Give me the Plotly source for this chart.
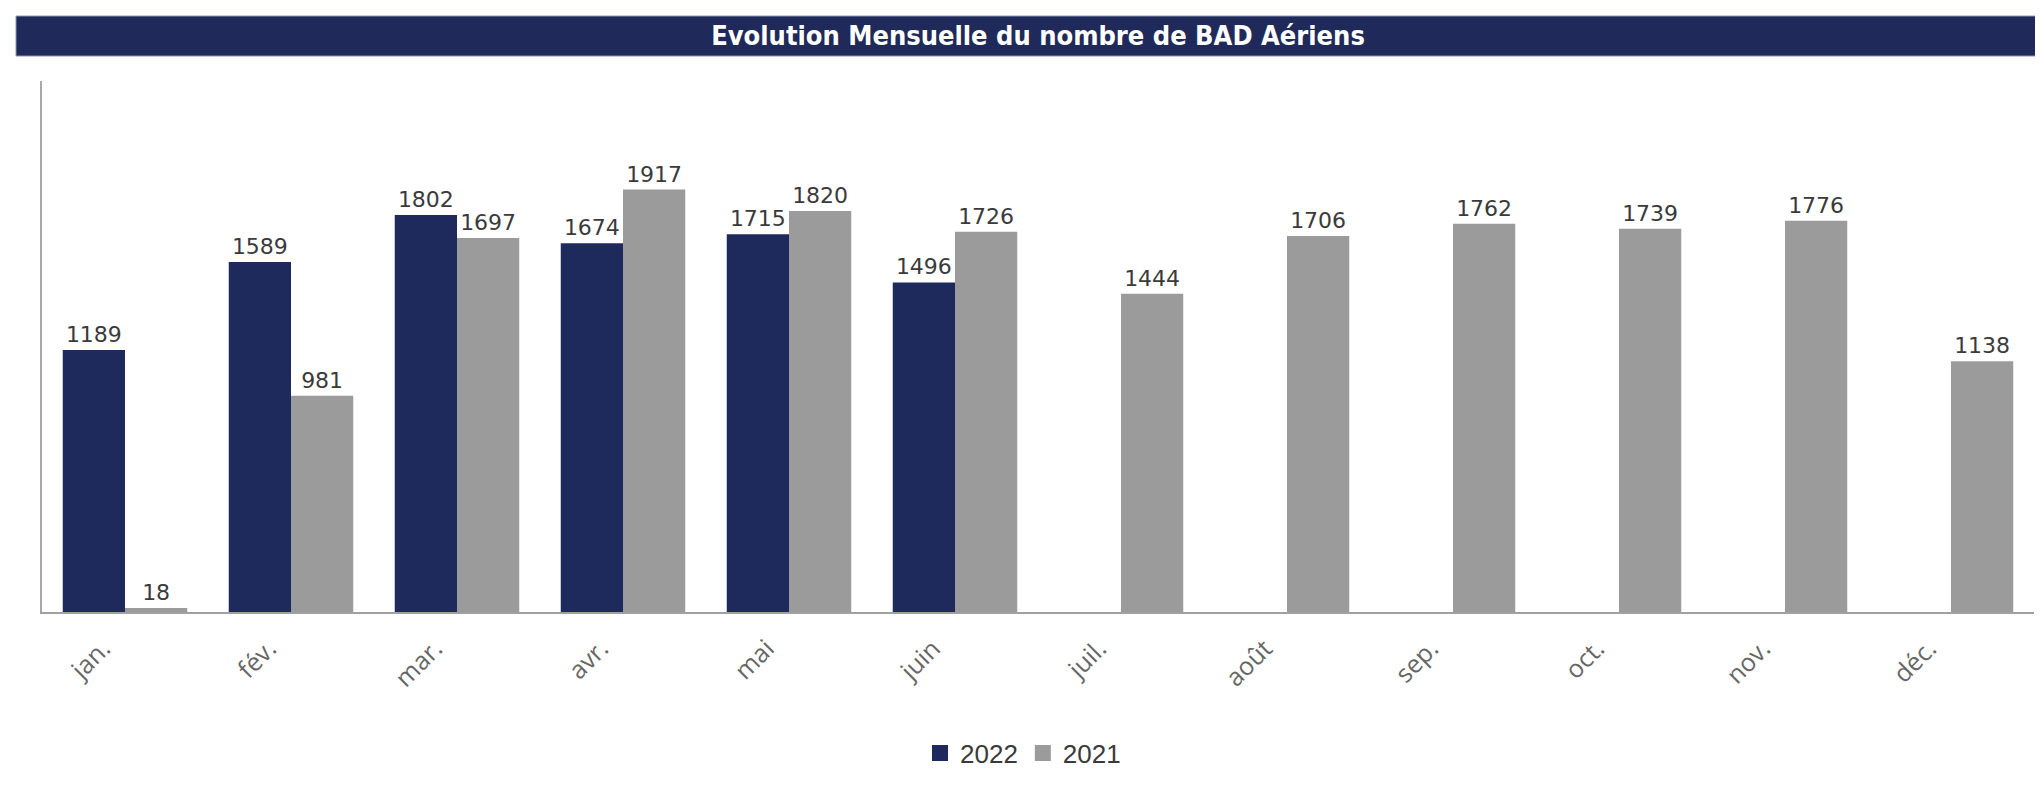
"""Evolution mensuelle du nombre de BAD aeriens - bar chart 2022 vs 2021"""
import plotly.graph_objects as go

MONTHS = ["jan.", "fév.", "mar.", "avr.", "mai", "juin",
          "juil.", "août", "sep.", "oct.", "nov.", "déc."]
BAD_2022 = [1189, 1589, 1802, 1674, 1715, 1496,
            None, None, None, None, None, None]
BAD_2021 = [18, 981, 1697, 1917, 1820, 1726,
            1444, 1706, 1762, 1739, 1776, 1138]

NAVY = "#1f2a5c"
GREY = "#9b9b9b"
OFF = 8  # default body margin of the html page
W, H = 2043 - OFF, 796 - OFF
# plot area in page pixels
L, R, T, B = 42, 2034, 81, 612


def px_x(x):
    return (x - L) / (R - L)


def px_y(y):
    return (B - y) / (B - T)


label_font = dict(family="DejaVu Sans", size=22, color="#3a3a3a")

fig = go.Figure()
fig.add_trace(go.Bar(x=MONTHS, y=BAD_2022, name="2022", showlegend=False,
                     marker=dict(color=NAVY, line=dict(width=0)),
                     text=BAD_2022, textposition="outside",
                     textfont=label_font, cliponaxis=False))
fig.add_trace(go.Bar(x=MONTHS, y=BAD_2021, name="2021", showlegend=False,
                     marker=dict(color=GREY, line=dict(width=0)),
                     text=BAD_2021, textposition="outside",
                     textfont=label_font, cliponaxis=False))
# legend entries with bigger square swatches
for name, color in (("2022", NAVY), ("2021", GREY)):
    fig.add_trace(go.Scatter(x=[None], y=[None], name=name, mode="markers",
                             marker=dict(symbol="square", size=22,
                                         color=color)))

shapes = [
    # title banner
    dict(type="rect", xref="paper", yref="paper", layer="below",
         x0=px_x(16), x1=px_x(2043 + 5), y0=px_y(56), y1=px_y(16),
         fillcolor="#1f2a5a", line=dict(color="#8d94b3", width=1)),
]

fig.update_layout(
    width=W, height=H,
    margin=dict(l=L - OFF, r=2043 - R, t=T - OFF, b=796 - B,
                autoexpand=False),
    paper_bgcolor="white", plot_bgcolor="white",
    barmode="group", bargap=0.25, bargroupgap=0,
    shapes=shapes,
    title=dict(text="<b>Evolution Mensuelle du nombre de BAD Aériens</b>",
               x=px_x(1038), xref="paper", xanchor="center",
               y=1 - (36 - OFF) / H, yref="container", yanchor="middle",
               font=dict(family="DejaVu Sans Condensed, Liberation Sans",
                         size=27, color="white")),
    xaxis=dict(showline=True, linecolor="#a0a0a0", linewidth=2,
               ticks="outside", ticklen=10, tickcolor="rgba(0,0,0,0)",
               tickangle=-45, ticklabelshift=-22,
               tickfont=dict(family="Open Sans", size=25, color="#666666"),
               showgrid=False, range=[-0.5, 11.5]),
    yaxis=dict(range=[0, 2410], showline=True, linecolor="#a8a8a8",
               linewidth=2, showticklabels=False, ticks="",
               showgrid=False, zeroline=False),
    legend=dict(orientation="h", x=px_x(1023), xanchor="center",
                y=px_y(753), yanchor="middle",
                font=dict(family="Liberation Sans", size=26,
                          color="#3a3a3a")),
)

fig.write_html("out.html")
